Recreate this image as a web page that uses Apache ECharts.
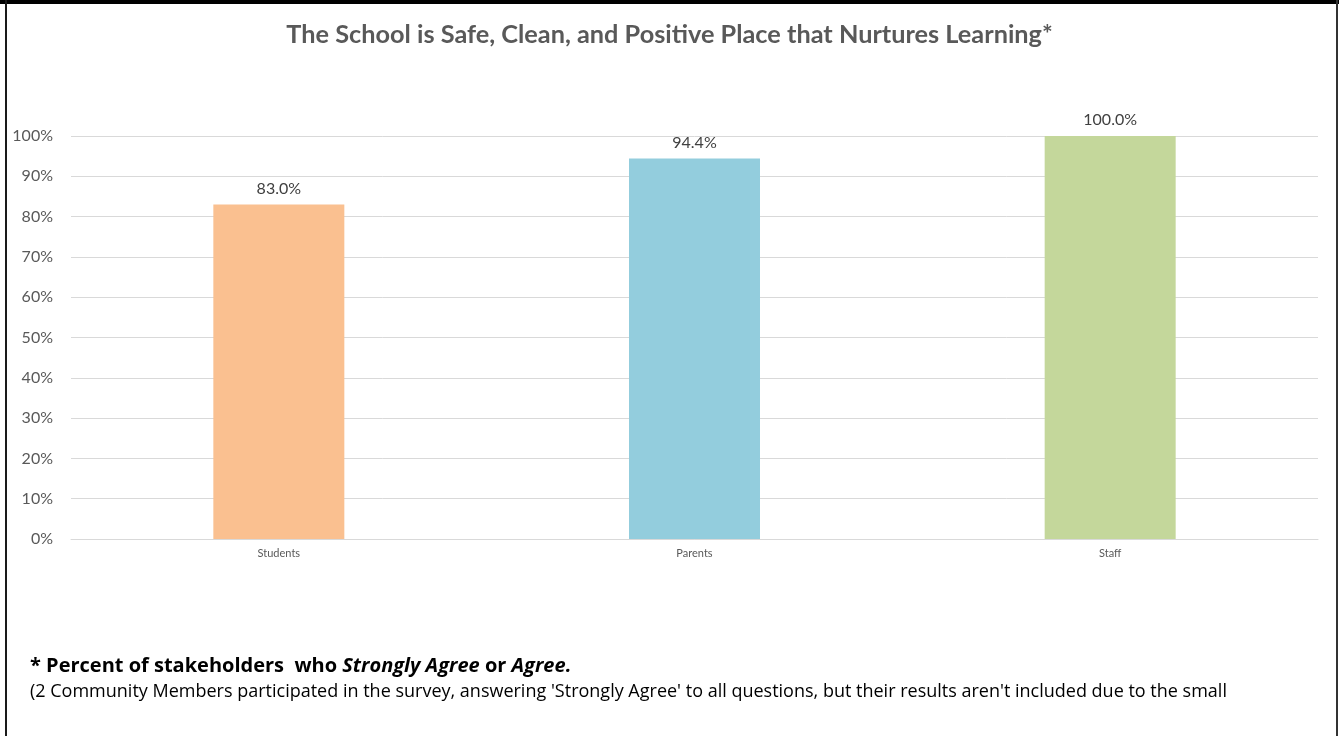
<!DOCTYPE html>
<html>
<head>
<meta charset="utf-8">
<script src="https://cdn.jsdelivr.net/npm/echarts@6/dist/echarts.min.js"></script>
<style>
html,body{margin:0;padding:0;background:#fff;}
#chart{width:1339px;height:736px;}
</style>
</head>
<body>
<div id="chart"></div>
<script>
const titleText = "The School is Safe, Clean, and Positive Place that Nurtures Learning*";
const categories = ["Students", "Parents", "Staff"];
const values = [83.0, 94.4, 100.0];
const barColors = ["#FAC090", "#93CDDD", "#C4D79B"];
const yTicks = [0, 10, 20, 30, 40, 50, 60, 70, 80, 90, 100];
const noteLine1Parts = ["* Percent of stakeholders  who ", "Strongly Agree", " or ", "Agree."];
const noteLine2 = "(2 Community Members participated in the survey, answering 'Strongly Agree' to all questions, but their results aren't included due to the small";

const chart = echarts.init(document.getElementById('chart'));
const font = "Lato, 'Open Sans', sans-serif";
const noteFont = "'Open Sans', Lato, sans-serif";

chart.setOption({
  animation: false,
  backgroundColor: '#ffffff',
  title: {
    text: titleText,
    left: 'center',
    top: 17,
    textStyle: { fontFamily: font, fontSize: 25.3, fontWeight: 'bold', color: '#595959' }
  },
  grid: { left: 71, right: 21, top: 136, bottom: 197 },
  xAxis: {
    type: 'category',
    data: categories,
    axisLine: { lineStyle: { color: '#D9D9D9', width: 1 } },
    axisTick: { show: false },
    axisLabel: { fontFamily: font, fontSize: 11, color: '#595959', margin: 9 }
  },
  yAxis: {
    type: 'value',
    min: 0, max: 100, interval: 10,
    axisLine: { show: false },
    axisTick: { show: false },
    splitLine: { lineStyle: { color: '#D9D9D9', width: 1 } },
    axisLabel: { fontFamily: font, fontSize: 16, color: '#595959', margin: 18,
      formatter: v => yTicks.includes(v) ? v + '%' : '' }
  },
  series: [{
    type: 'bar',
    barWidth: 131,
    data: values.map((v, i) => ({ value: v, itemStyle: { color: barColors[i] } })),
    label: {
      show: true, position: 'top', distance: 8,
      fontFamily: font, fontSize: 16, color: '#404040',
      formatter: p => p.value.toFixed(1) + '%'
    }
  }],
  graphic: [
    { type: 'rect', shape: { x: 0, y: 0, width: 1339, height: 4 }, style: { fill: '#000' }, silent: true },
    { type: 'rect', shape: { x: 5, y: 0, width: 2, height: 736 }, style: { fill: '#1a1a1a' }, silent: true },
    { type: 'rect', shape: { x: 1336, y: 0, width: 2, height: 736 }, style: { fill: '#333' }, silent: true },
    {
      type: 'text', left: 30, top: 656,
      style: {
        text: '{b|' + noteLine1Parts[0] + '}{bi|' + noteLine1Parts[1] + '}{b|' + noteLine1Parts[2] + '}{bi|' + noteLine1Parts[3] + '}',
        rich: {
          b: { fontFamily: noteFont, fontSize: 20, fontWeight: 'bold', fill: '#000' },
          bi: { fontFamily: noteFont, fontSize: 20, fontWeight: 'bold', fontStyle: 'italic', fill: '#000' }
        }
      }
    },
    {
      type: 'text', left: 30, top: 683,
      style: { text: noteLine2, fontFamily: noteFont, fontSize: 18, fill: '#000' }
    }
  ]
});
</script>
</body>
</html>
